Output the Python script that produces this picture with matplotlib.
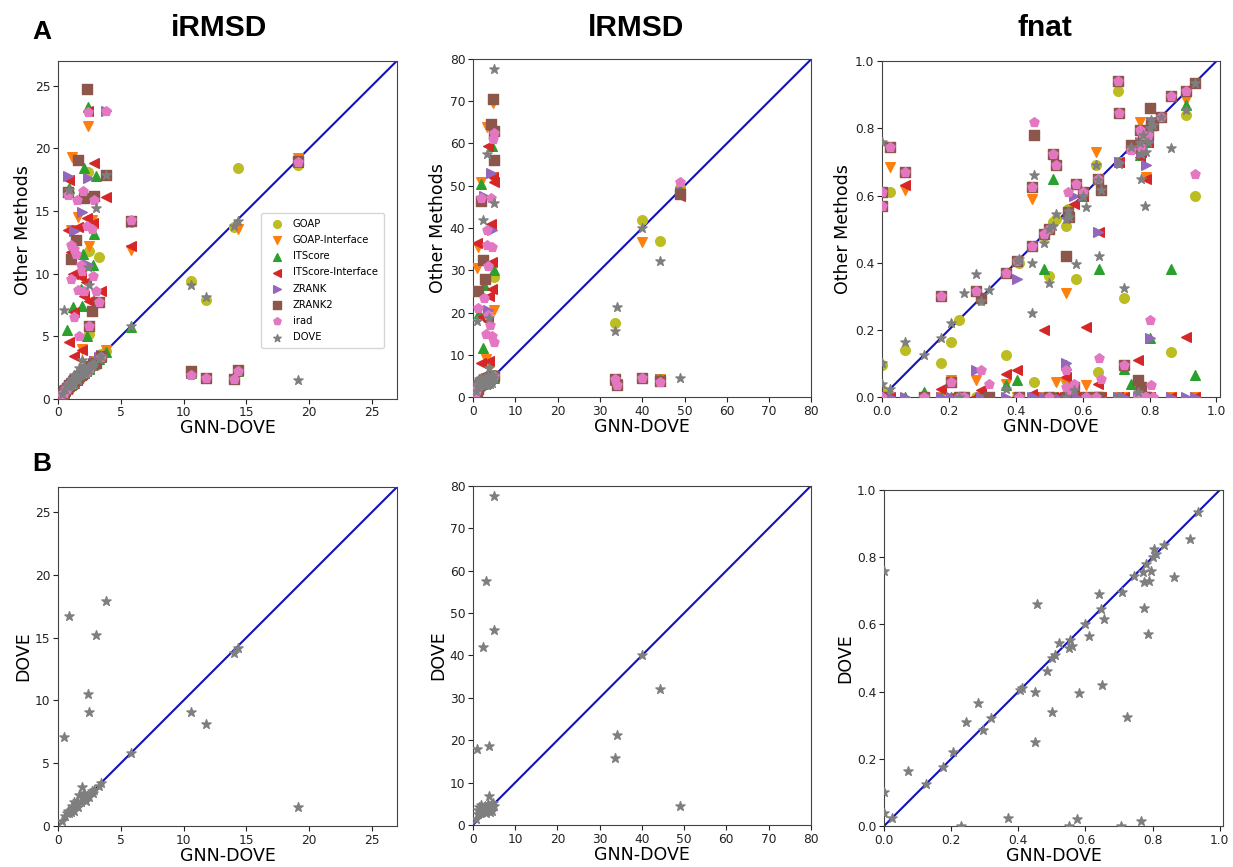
import matplotlib.pyplot as plt

# legend order / style
methods = ["GOAP", "GOAP-Interface", "ITScore", "ITScore-Interface",
           "ZRANK", "ZRANK2", "irad", "DOVE"]
colors = ["#bcbd22", "#ff7f0e", "#2ca02c", "#d62728",
          "#9467bd", "#8c564b", "#e377c2", "#7f7f7f"]
markers = ["o", "v", "^", "<", ">", "s", "p", "*"]

# ---------------- iRMSD ----------------
irmsd_gnn = [0.3, 0.5, 0.6, 0.7, 0.8, 0.85, 0.9, 1.0, 1.05, 1.1, 1.2, 1.25, 1.3,
             1.4, 1.5, 1.6, 1.65, 1.8, 1.9, 2.0, 2.1, 2.2, 2.3, 2.4, 2.45, 2.5,
             2.7, 2.8, 2.9, 3.0, 3.3, 3.4, 3.8, 5.8, 10.6, 11.8, 14.0, 14.3, 19.1]
irmsd_goap = [0.4, 0.6, 0.7, 0.9, 0.9, 1.0, 1.1, 1.2, 1.1, 1.3, 1.4, 1.3, 1.5,
              1.6, 1.7, 1.8, 1.5, 2.0, 2.1, 2.3, 2.0, 2.4, 2.6, 18.1, 5.2, 11.8,
              2.8, 3.0, 2.9, 2.7, 11.3, 3.6, 3.8, 14.1, 9.4, 7.9, 13.7, 18.4, 18.7]
irmsd_goapi = [0.3, 0.5, 0.7, 0.8, 0.9, 0.9, 1.0, 13.5, 1.2, 19.3, 1.3, 1.4, 1.4,
               1.5, 1.6, 14.5, 1.7, 1.9, 4.0, 2.1, 2.2, 2.3, 2.4, 21.8, 12.2, 2.6,
               14.3, 2.7, 3.0, 2.9, 3.2, 3.3, 3.9, 11.9, 2.2, 1.7, 1.6, 13.6, 19.2]
irmsd_its = [0.4, 0.6, 0.6, 5.5, 0.9, 1.0, 16.8, 1.1, 1.2, 1.2, 7.3, 1.4, 1.3,
             1.5, 1.6, 1.7, 1.8, 8.8, 7.4, 11.6, 18.4, 2.2, 5.0, 23.3, 2.5, 2.4,
             2.7, 10.7, 13.2, 17.8, 3.2, 3.3, 3.7, 5.7, 2.1, 1.7, 1.6, 2.2, 18.9]
irmsd_itsi = [0.3, 0.5, 0.7, 0.8, 13.5, 4.5, 17.5, 1.2, 11.7, 1.3, 10.0, 6.9, 3.4,
              1.6, 1.5, 13.7, 1.9, 9.7, 3.9, 2.1, 8.2, 9.3, 14.4, 23.0, 2.6, 7.8,
              2.9, 14.0, 18.8, 3.1, 3.3, 8.6, 16.1, 12.2, 2.2, 1.7, 1.6, 2.3, 18.9]
irmsd_zrank = [0.4, 0.6, 0.7, 0.8, 17.8, 1.0, 1.0, 1.1, 1.3, 1.2, 1.4, 1.5, 13.4,
               1.5, 1.7, 1.8, 1.8, 2.0, 14.9, 2.1, 2.3, 2.4, 10.8, 17.6, 2.4, 2.6,
               2.6, 2.9, 3.0, 2.8, 3.3, 3.5, 23.0, 14.1, 2.1, 1.7, 1.6, 2.2, 19.0]
irmsd_zrank2 = [0.3, 0.6, 0.7, 0.9, 16.5, 1.0, 1.1, 11.2, 1.2, 1.3, 1.3, 1.4, 1.5,
                12.7, 1.6, 19.1, 1.8, 1.9, 2.0, 2.1, 16.0, 2.3, 24.7, 2.5, 5.8, 2.6,
                7.0, 2.8, 16.2, 2.9, 7.7, 3.4, 17.9, 14.2, 2.2, 1.7, 1.6, 2.3, 19.0]
irmsd_irad = [0.4, 0.5, 0.8, 0.8, 16.3, 1.0, 1.2, 12.3, 9.6, 1.2, 1.5, 12.0, 6.5,
              11.6, 15.9, 8.7, 5.0, 10.7, 10.2, 16.6, 8.6, 2.1, 13.8, 22.9, 5.8, 2.3,
              13.6, 9.8, 15.9, 8.6, 7.7, 3.3, 23.0, 14.3, 1.9, 1.7, 1.6, 2.2, 18.9]
irmsd_dove = [0.4, 7.1, 0.8, 1.0, 1.2, 1.0, 16.7, 1.3, 1.1, 1.6, 1.4, 1.9, 1.2,
              1.7, 2.0, 1.5, 2.5, 1.9, 3.1, 2.2, 2.6, 2.0, 2.4, 10.5, 9.1, 2.3,
              2.8, 2.6, 2.9, 15.2, 3.2, 3.4, 17.9, 5.8, 9.1, 8.1, 13.8, 14.2, 1.5]

# ---------------- lRMSD ----------------
lrmsd_gnn = [0.8, 1.0, 1.2, 1.3, 1.5, 1.7, 2.0, 2.0, 2.2, 2.3, 2.5, 2.7, 2.8,
             3.0, 3.2, 3.2, 3.4, 3.5, 3.5, 3.8, 3.9, 4.0, 4.2, 4.3, 4.5, 4.6,
             4.8, 4.9, 4.9, 5.0, 33.6, 34.0, 40.0, 44.3, 49.0]
lrmsd_goap = [1.0, 1.5, 2.0, 2.2, 2.5, 3.0, 2.4, 3.3, 2.8, 3.5, 3.0, 3.2, 3.9,
              3.5, 4.0, 3.6, 3.9, 4.2, 3.1, 4.0, 4.3, 4.5, 4.6, 4.1, 4.9, 4.4,
              5.0, 28.5, 4.7, 5.2, 17.5, 3.0, 41.8, 37.0, 49.5]
lrmsd_goapi = [1.2, 30.5, 35.5, 2.3, 2.7, 3.2, 51.0, 3.0, 3.4, 4.0, 3.6, 4.2, 3.8,
               9.0, 64.0, 3.9, 4.4, 4.0, 4.6, 7.0, 4.1, 4.8, 4.3, 5.0, 52.0, 4.5,
               69.5, 20.5, 4.9, 5.1, 4.3, 2.9, 36.8, 4.3, 48.5]
lrmsd_its = [1.1, 1.8, 2.1, 2.4, 20.0, 2.9, 50.5, 3.5, 3.2, 11.5, 26.5, 3.6, 4.0,
             3.4, 4.2, 3.8, 4.0, 4.4, 3.9, 4.5, 4.6, 4.2, 4.7, 4.4, 59.5, 4.9,
             5.0, 30.0, 4.6, 5.3, 4.0, 3.1, 4.4, 4.2, 49.0]
lrmsd_itsi = [1.3, 36.5, 2.2, 2.6, 3.0, 3.3, 8.0, 3.6, 19.0, 3.8, 3.4, 4.0, 4.3,
              3.9, 4.1, 4.4, 4.5, 59.5, 18.0, 8.5, 24.0, 4.7, 4.8, 41.0, 25.5, 32.0,
              52.0, 56.0, 5.0, 51.0, 4.0, 3.0, 4.4, 4.1, 47.5]
lrmsd_zrank = [1.0, 1.6, 2.0, 2.3, 2.6, 3.0, 3.2, 3.4, 3.1, 3.6, 47.5, 3.8, 4.0,
               3.7, 4.1, 3.9, 4.2, 20.5, 4.3, 4.5, 4.4, 4.6, 53.0, 4.7, 4.8, 39.5,
               4.9, 5.0, 5.1, 4.6, 4.2, 2.9, 4.5, 4.3, 48.5]
lrmsd_zrank2 = [1.1, 1.4, 2.0, 25.0, 2.8, 3.1, 46.5, 3.3, 3.5, 32.5, 3.7, 4.0, 28.0,
                3.8, 4.2, 4.0, 4.3, 4.5, 4.4, 4.6, 4.5, 4.7, 64.5, 4.8, 4.9, 5.0,
                70.5, 56.0, 5.1, 63.0, 4.2, 2.8, 4.5, 3.8, 48.0]
lrmsd_irad = [1.2, 2.0, 2.3, 21.0, 2.9, 3.2, 47.0, 3.5, 3.4, 3.9, 3.6, 23.5, 4.1,
              15.0, 36.0, 4.0, 39.5, 19.5, 31.0, 4.3, 4.2, 17.0, 4.6, 47.0, 14.5, 35.5,
              61.0, 62.5, 13.0, 4.9, 4.2, 2.8, 4.5, 3.6, 51.0]
lrmsd_dove = [1.5, 18.0, 2.5, 3.5, 4.2, 2.8, 3.9, 4.6, 3.0, 42.0, 4.0, 3.2, 4.5,
              3.6, 57.5, 2.8, 4.1, 3.5, 5.0, 6.8, 18.7, 3.0, 4.8, 4.0, 4.4, 3.3,
              5.2, 46.0, 77.6, 4.5, 15.7, 21.3, 40.0, 32.2, 4.4]

# ---------------- fnat ----------------
fnat_gnn = [0.0, 0.0, 0.0, 0.025, 0.07, 0.125, 0.175, 0.205, 0.23, 0.245, 0.28,
            0.295, 0.32, 0.37, 0.405, 0.41, 0.45, 0.45, 0.455, 0.485, 0.50, 0.50,
            0.51, 0.52, 0.55, 0.55, 0.555, 0.56, 0.575, 0.58, 0.60, 0.61, 0.64,
            0.645, 0.65, 0.655, 0.705, 0.71, 0.725, 0.745, 0.765, 0.77, 0.775,
            0.775, 0.78, 0.785, 0.79, 0.795, 0.80, 0.805, 0.81, 0.835, 0.865,
            0.91, 0.935]
fnat_goap = [0.095, 0.02, 0.0, 0.61, 0.14, 0.0, 0.10, 0.165, 0.23, 0.0, 0.0,
             0.29, 0.0, 0.125, 0.0, 0.40, 0.0, 0.45, 0.045, 0.48, 0.36, 0.50,
             0.52, 0.53, 0.51, 0.05, 0.56, 0.0, 0.0, 0.35, 0.60, 0.0, 0.69,
             0.075, 0.0, 0.0, 0.91, 0.70, 0.295, 0.74, 0.0, 0.76, 0.73,
             0.0, 0.78, 0.0, 0.0, 0.76, 0.86, 0.82, 0.81, 0.835, 0.135,
             0.84, 0.60]
fnat_goapi = [0.0, 0.0, 0.0, 0.685, 0.615, 0.0, 0.0, 0.05, 0.0, 0.0, 0.05,
              0.0, 0.0, 0.04, 0.0, 0.0, 0.59, 0.45, 0.0, 0.0, 0.0, 0.50,
              0.0, 0.045, 0.31, 0.045, 0.55, 0.0, 0.0, 0.0, 0.60, 0.035, 0.73,
              0.0, 0.0, 0.0, 0.0, 0.70, 0.0, 0.74, 0.0, 0.82, 0.73,
              0.0, 0.78, 0.0, 0.655, 0.76, 0.0, 0.82, 0.81, 0.835, 0.0,
              0.885, 0.0]
fnat_its = [0.0, 0.0, 0.0, 0.0, 0.0, 0.015, 0.0, 0.0, 0.0, 0.0, 0.0,
            0.0, 0.0, 0.035, 0.05, 0.0, 0.0, 0.45, 0.0, 0.38, 0.0, 0.50,
            0.65, 0.0, 0.095, 0.0, 0.55, 0.0, 0.0, 0.0, 0.60, 0.0, 0.0,
            0.0, 0.38, 0.0, 0.0, 0.70, 0.085, 0.04, 0.0, 0.72, 0.73,
            0.0, 0.78, 0.0, 0.0, 0.76, 0.175, 0.82, 0.81, 0.835, 0.38,
            0.87, 0.065]
fnat_itsi = [0.0, 0.0, 0.0, 0.0, 0.63, 0.0, 0.025, 0.0, 0.0, 0.0, 0.0,
             0.02, 0.0, 0.07, 0.08, 0.0, 0.01, 0.45, 0.0, 0.20, 0.0, 0.50,
             0.0, 0.0, 0.06, 0.0, 0.55, 0.0, 0.575, 0.0, 0.60, 0.21, 0.0,
             0.04, 0.49, 0.0, 0.0, 0.70, 0.0, 0.74, 0.11, 0.715, 0.73,
             0.0, 0.78, 0.0, 0.65, 0.76, 0.0, 0.82, 0.81, 0.835, 0.0,
             0.18, 0.0]
fnat_zrank = [0.0, 0.0, 0.0, 0.0, 0.0, 0.0, 0.0, 0.0, 0.0, 0.0, 0.08,
              0.0, 0.0, 0.0, 0.35, 0.0, 0.0, 0.45, 0.0, 0.0, 0.0, 0.50,
              0.0, 0.0, 0.10, 0.0, 0.55, 0.0, 0.60, 0.0, 0.60, 0.0, 0.0,
              0.49, 0.0, 0.0, 0.0, 0.70, 0.0, 0.74, 0.0, 0.76, 0.73,
              0.0, 0.78, 0.0, 0.69, 0.76, 0.175, 0.82, 0.81, 0.835, 0.0,
              0.0, 0.0]
fnat_zrank2 = [0.61, 0.57, 0.0, 0.745, 0.67, 0.0, 0.30, 0.045, 0.0, 0.0, 0.315,
               0.295, 0.0, 0.37, 0.405, 0.0, 0.625, 0.45, 0.78, 0.485, 0.0, 0.50,
               0.725, 0.69, 0.42, 0.0, 0.55, 0.535, 0.03, 0.635, 0.61, 0.0, 0.0,
               0.65, 0.0, 0.615, 0.94, 0.845, 0.095, 0.75, 0.05, 0.795, 0.74,
               0.03, 0.78, 0.0, 0.0, 0.78, 0.86, 0.81, 0.81, 0.835, 0.895,
               0.91, 0.935]
fnat_irad = [0.61, 0.57, 0.0, 0.745, 0.67, 0.0, 0.30, 0.045, 0.0, 0.0, 0.315,
             0.08, 0.04, 0.37, 0.405, 0.0, 0.625, 0.45, 0.82, 0.485, 0.0, 0.50,
             0.725, 0.69, 0.08, 0.03, 0.61, 0.02, 0.04, 0.635, 0.61, 0.0, 0.0,
             0.65, 0.115, 0.055, 0.94, 0.845, 0.095, 0.735, 0.0, 0.795, 0.745,
             0.0, 0.78, 0.0, 0.0, 0.78, 0.23, 0.035, 0.0, 0.835, 0.895,
             0.91, 0.665]
fnat_dove = [0.76, 0.10, 0.04, 0.025, 0.165, 0.125, 0.175, 0.22, 0.0, 0.31, 0.365,
             0.285, 0.32, 0.025, 0.405, 0.41, 0.25, 0.40, 0.66, 0.46, 0.34, 0.50,
             0.51, 0.545, 0.53, 0.0, 0.555, 0.535, 0.02, 0.395, 0.60, 0.565, 0.69,
             0.645, 0.42, 0.615, 0.0, 0.695, 0.325, 0.745, 0.015, 0.755, 0.725,
             0.65, 0.78, 0.57, 0.73, 0.76, 0.80, 0.825, 0.81, 0.835, 0.74,
             0.855, 0.935]

irmsd = [irmsd_goap, irmsd_goapi, irmsd_its, irmsd_itsi,
         irmsd_zrank, irmsd_zrank2, irmsd_irad, irmsd_dove]
lrmsd = [lrmsd_goap, lrmsd_goapi, lrmsd_its, lrmsd_itsi,
         lrmsd_zrank, lrmsd_zrank2, lrmsd_irad, lrmsd_dove]
fnat = [fnat_goap, fnat_goapi, fnat_its, fnat_itsi,
        fnat_zrank, fnat_zrank2, fnat_irad, fnat_dove]

panels = [
    ("iRMSD", irmsd_gnn, irmsd, 27, list(range(0, 30, 5)), None),
    ("lRMSD", lrmsd_gnn, lrmsd, 80, list(range(0, 90, 10)), None),
    ("fnat", fnat_gnn, fnat, 1.01, [0, 0.2, 0.4, 0.6, 0.8, 1.0], "%.1f"),
]

fig = plt.figure(figsize=(12.33, 8.67), dpi=100)

top_rects = [[0.047, 0.540, 0.275, 0.390],
             [0.3836, 0.542, 0.2745, 0.390],
             [0.7153, 0.542, 0.274, 0.3875]]
bot_rects = [[0.047, 0.0473, 0.275, 0.391],
             [0.3836, 0.0485, 0.274, 0.391],
             [0.717, 0.0473, 0.275, 0.3875]]

MS = 48


def style_axis(ax, lim, ticks, fmt, ylim):
    ax.plot([0, lim], [0, lim], color="#1212b8", lw=1.5, zorder=1)
    ax.set_xlim(0, lim)
    ax.set_ylim(0, ylim)
    ax.set_xticks(ticks)
    ax.set_yticks(ticks)
    if fmt:
        ax.set_xticklabels([fmt % t for t in ticks])
        ax.set_yticklabels([fmt % t for t in ticks])
    ax.tick_params(labelsize=8.8, colors="#222222", length=3.5, pad=2)
    for sp in ax.spines.values():
        sp.set_color("#444444")
    ax.set_xlabel("GNN-DOVE", fontsize=12.5, labelpad=0)


for k, (name, xs, ys_all, lim, ticks, fmt) in enumerate(panels):
    ylim = 1.0 if name == "fnat" else lim
    ax = fig.add_axes(top_rects[k])
    for m, ys in enumerate(ys_all):
        ax.scatter(xs, ys, s=MS, c=colors[m], marker=markers[m],
                   label=methods[m], zorder=2 + m)
    style_axis(ax, lim, ticks, fmt, ylim)
    ax.set_ylabel("Other Methods", fontsize=12.5, labelpad=2)
    if k == 0:
        ax.legend(loc="center right", bbox_to_anchor=(0.975, 0.35),
                  fontsize=7.2, handletextpad=0.6, borderpad=0.6,
                  labelspacing=0.62, markerscale=0.8, framealpha=0.8)

    axb = fig.add_axes(bot_rects[k])
    axb.scatter(xs, ys_all[-1], s=MS, c=colors[-1], marker="*", zorder=3)
    style_axis(axb, lim, ticks, fmt, ylim)
    axb.set_ylabel("DOVE", fontsize=12.5, labelpad=2)

title_font = dict(fontsize=21.5, fontweight="bold", family="Liberation Sans",
                  ha="center", va="center")
fig.text(219 / 1233, 1 - 28 / 867, "iRMSD", **title_font)
fig.text(636 / 1233, 1 - 28 / 867, "lRMSD", **title_font)
fig.text(1045 / 1233, 1 - 28 / 867, "fnat", **title_font)
fig.text(42 / 1233, 1 - 32 / 867, "A", **dict(title_font, fontsize=19))
fig.text(42 / 1233, 1 - 464 / 867, "B", **dict(title_font, fontsize=19))

fig.savefig("out.png", dpi=100)
